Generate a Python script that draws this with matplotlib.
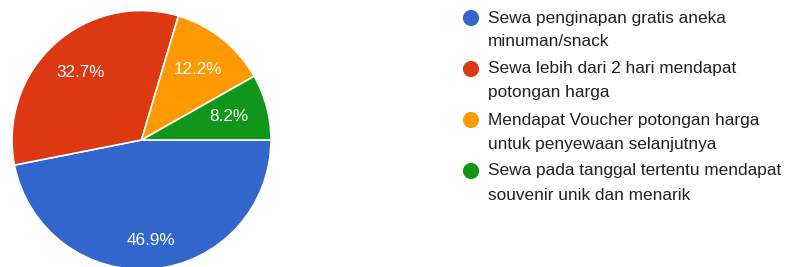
import matplotlib
matplotlib.use("Agg")
import matplotlib.pyplot as plt
import numpy as np

plt.rcParams['font.family'] = ['Liberation Sans', 'DejaVu Sans']

categories = [
    "Sewa penginapan gratis aneka\nminuman/snack",
    "Sewa lebih dari 2 hari mendapat\npotongan harga",
    "Mendapat Voucher potongan harga\nuntuk penyewaan selanjutnya",
    "Sewa pada tanggal tertentu mendapat\nsouvenir unik dan menarik",
]
values = [46.9, 32.7, 12.2, 8.2]
colors = ["#3366cc", "#dc3912", "#ff9900", "#109618"]

W, H = 787, 267
fig = plt.figure(figsize=(W / 100, H / 100), dpi=100)

# pie axes
cx, cy, r = 141.5, 140, 129.5
ax = fig.add_axes([(cx - r) / W, (H - cy - r) / H, 2 * r / W, 2 * r / H])
wedges, _ = ax.pie(values, colors=colors, startangle=0, counterclock=False,
                   radius=1, wedgeprops=dict(edgecolor='white', linewidth=1.2))
ax.set_xlim(-1, 1)
ax.set_ylim(-1, 1)
ax.set_aspect('auto')
ax.axis('off')

dists = [0.78, 0.70, 0.70, 0.70]
for w, v, d in zip(wedges, values, dists):
    mid = np.deg2rad((w.theta1 + w.theta2) / 2)
    ax.text(d * np.cos(mid), d * np.sin(mid), f"{v}%", color='white',
            fontsize=12.3, ha='center', va='center')

# legend
lax = fig.add_axes([0, 0, 1, 1])
lax.set_xlim(0, W)
lax.set_ylim(H, 0)
lax.axis('off')
y0, step, lh = 18, 51, 24
for i, (lab, col) in enumerate(zip(categories, colors)):
    y = y0 + i * step
    lax.scatter([471], [y], s=135, color=col, edgecolors='none')
    for j, line in enumerate(lab.split("\n")):
        lax.text(488, y + j * lh, line, fontsize=12.4, color='#212121',
                 ha='left', va='center')

fig.savefig("out.png", dpi=100)
